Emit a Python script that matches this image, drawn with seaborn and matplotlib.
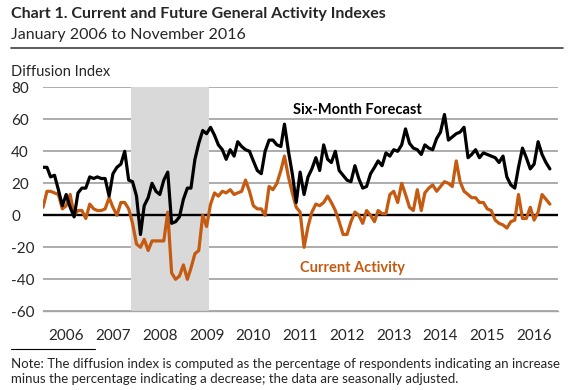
import numpy as np
import pandas as pd
import matplotlib
matplotlib.use("Agg")
import matplotlib.pyplot as plt
from matplotlib.lines import Line2D
import matplotlib.dates as mdates
import seaborn as sns

# monthly values, Jan 2006 - Nov 2016
current = [
    5, 15, 15, 14, 13, 4, 6, 13, 0, 3, 3, -2,            # 2006
    7, 4, 3, 3, 4, 11, 5, 0, 8, 8, 4, -5,                # 2007
    -18, -20, -15, -22, -16, -16, -16, -16, 2, -36, -40, -38,  # 2008
    -31, -40, -33, -24, -22, 0, -7, 7, 14, 12, 15, 14,   # 2009
    16, 13, 14, 15, 22, 15, 6, 4, 4, 0, 18, 16,          # 2010
    20, 28, 37, 24, 14, 5, 2, -20, -7, 2, 7, 6,          # 2011
    8, 12, 8, 3, -4, -12, -12, -4, 2, 0, -5, 3,          # 2012
    0, -4, 3, 1, 1, 13, 15, 8, 20, 13, 5, 3,             # 2013
    16, 3, 14, 17, 19, 15, 18, 21, 20, 18, 34, 21,       # 2014
    15, 13, 11, 11, 8, 8, 4, 3, -3, -5, -6, -8,          # 2015
    -4, -3, 13, -2, -2, 5, -3, 2, 13, 10, 7,             # 2016
]
forecast = [
    30, 30, 24, 25, 16, 6, 13, 5, -1, 14, 17, 17,        # 2006
    24, 23, 24, 23, 23, 12, 26, 30, 32, 40, 22, 21,      # 2007
    12, -12, 6, 11, 20, 15, 13, 22, 27, -5, -4, -1,      # 2008
    10, 17, 17, 35, 45, 53, 51, 55, 50, 44, 41, 35,      # 2009
    41, 37, 46, 43, 41, 40, 34, 28, 26, 40, 47, 47,      # 2010
    44, 43, 57, 40, 26, 8, 27, 13, 24, 29, 36, 28,       # 2011
    44, 35, 33, 40, 28, 25, 22, 21, 31, 23, 17, 18,      # 2012
    26, 30, 34, 31, 39, 37, 41, 40, 44, 54, 45, 42,      # 2013
    41, 38, 44, 42, 41, 48, 52, 63, 47, 49, 51, 52,      # 2014
    55, 36, 38, 41, 36, 39, 38, 37, 36, 33, 37, 24,      # 2015
    19, 17, 30, 42, 36, 29, 32, 46, 38, 33, 29,          # 2016
]
years = [str(y) for y in range(2006, 2017)]
yticks = [-60, -40, -20, 0, 20, 40, 60, 80]
recession = ("2007-11-18", "2009-07-18")

ORANGE = "#C55A11"

sns.set_style("white")
plt.rcParams["font.family"] = ["Lato", "DejaVu Sans"]

W, H = 575, 390
fig = plt.figure(figsize=(W / 100, H / 100), dpi=100)
ax = fig.add_axes([43 / W, 1 - 311.3 / H, (557.7 - 43) / W, (311.3 - 87.3) / H])

dates = pd.date_range("2006-01-01", periods=len(current), freq="MS")
df = pd.DataFrame({"date": dates, "Current Activity": current,
                   "Six-Month Forecast": forecast})
df = df.melt("date", var_name="series", value_name="value")

ax.axvspan(pd.Timestamp(recession[0]), pd.Timestamp(recession[1]),
           color="#d9d9d9", lw=0, zorder=1)
ax.axhline(0, color="black", lw=1.7, zorder=2)
sns.lineplot(data=df, x="date", y="value", hue="series",
             hue_order=["Current Activity", "Six-Month Forecast"],
             palette={"Current Activity": ORANGE, "Six-Month Forecast": "black"},
             linewidth=2.3, legend=False, ax=ax, zorder=3)

ax.set_xlim(pd.Timestamp("2006-01-01"), pd.Timestamp("2017-01-01"))
ax.set_ylim(-60, 80)
ax.set_yticks(yticks)
ax.set_yticklabels([str(v) for v in yticks])
ax.yaxis.grid(True, color="#a6a6a6", lw=1.3, zorder=0)
ax.set_axisbelow(True)
ax.set_xlabel("")
ax.set_ylabel("")

ax.xaxis.set_major_locator(mdates.YearLocator())
ax.xaxis.set_major_formatter(plt.NullFormatter())
ax.xaxis.set_minor_locator(mdates.MonthLocator(bymonth=7))
ax.set_xticks(pd.to_datetime([f"{y}-07-01" for y in years]), minor=True)
ax.set_xticklabels(years, minor=True)
ax.tick_params(axis="x", which="major", direction="in", length=3,
               color="#a6a6a6", width=1)
ax.tick_params(axis="x", which="minor", length=0, pad=13, labelsize=11)
ax.tick_params(axis="y", length=0, pad=23, labelsize=11)
for lab in ax.get_yticklabels():
    lab.set_ha("left")

for s in ["top", "left", "right"]:
    ax.spines[s].set_visible(False)
ax.spines["bottom"].set_color("#a6a6a6")
ax.spines["bottom"].set_linewidth(1)

# series labels
fig.text(357 / W, 1 - 110 / H, "Six-Month Forecast", fontsize=10.5,
         fontweight="bold", color="black", ha="center", va="center")
fig.text(352 / W, 1 - 268 / H, "Current Activity", fontsize=10.5,
         fontweight="bold", color=ORANGE, ha="center", va="center")

# header
fig.text(11 / W, 1 - 14 / H, "Chart 1. Current and Future General Activity Indexes",
         fontsize=11.5, fontweight="bold", ha="left", va="center")
fig.text(11 / W, 1 - 35 / H, "January 2006 to November 2016",
         fontsize=11.5, ha="left", va="center")
fig.add_artist(Line2D([11 / W, 563 / W], [1 - 48 / H] * 2, color="#404040", lw=1.2))
fig.text(11 / W, 1 - 72 / H, "Diffusion Index", fontsize=10.5, ha="left", va="center")

# footer
fig.add_artist(Line2D([11 / W, 95 / W], [1 - 349 / H] * 2, color="black", lw=0.8))
fig.text(11 / W, 1 - 364 / H,
         "Note: The diffusion index is computed as the percentage of respondents indicating an increase",
         fontsize=9.5, ha="left", va="center")
fig.text(11 / W, 1 - 379 / H,
         "minus the percentage indicating a decrease; the data are seasonally adjusted.",
         fontsize=9.5, ha="left", va="center")

fig.savefig("out.png", dpi=100)
